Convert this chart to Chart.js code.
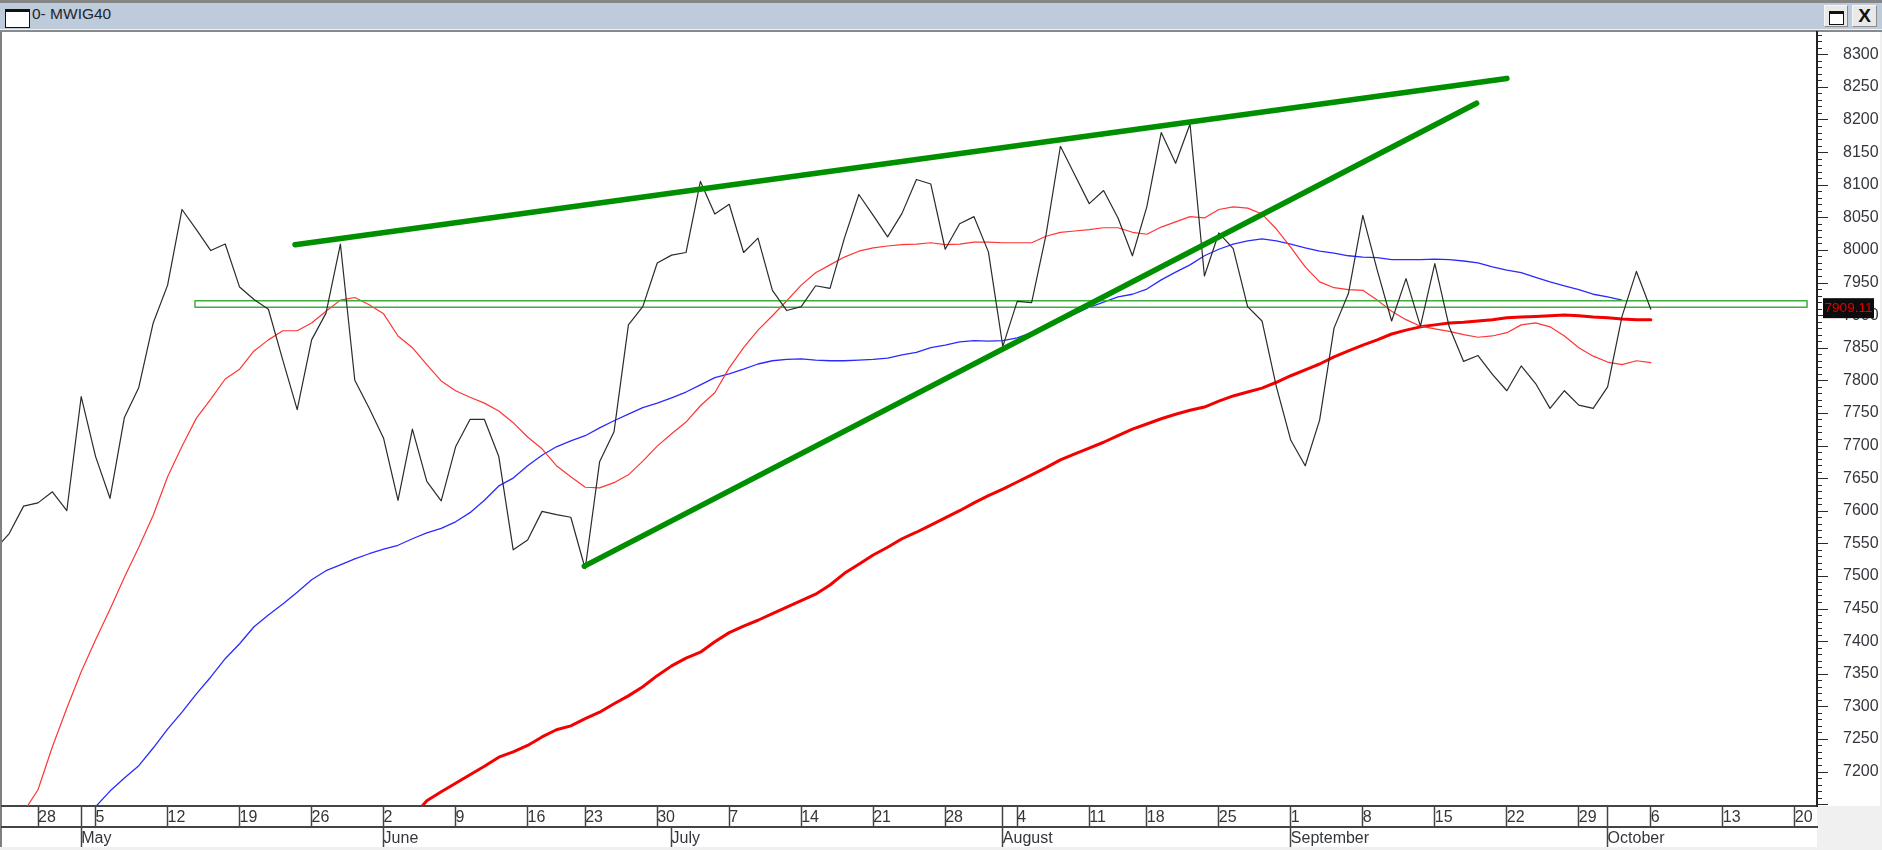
<!DOCTYPE html>
<html>
<head>
<meta charset="utf-8">
<title>MWIG40</title>
<script src="https://cdn.jsdelivr.net/npm/chart.js@4"></script>
<style>
html,body{margin:0;padding:0;width:1882px;height:850px;overflow:hidden;background:#f0f0f0;font-family:"Liberation Sans",Arial,sans-serif}
#frame{position:absolute;left:0;top:0;width:1882px;height:3px;background:#858585}
#bar{position:absolute;left:0;top:3px;width:1882px;height:26px;background:#bdcbdb}
#barline{position:absolute;left:0;top:29px;width:1882px;height:3px;background:linear-gradient(#f2f2f2 0 1px,#8a8a8a 1px)}
#paper{position:absolute;left:0;top:32px;width:1880px;height:774px;background:#fff}
#strip{position:absolute;left:0;top:806px;width:1817px;height:41px;background:#fff}
#leftedge{position:absolute;left:0;top:32px;width:2px;height:815px;background:#7f7f7f}
#icon{position:absolute;left:5px;top:9px;width:23px;height:15px;border:1px solid #111;border-top:3px solid #111;background:#fff}
#title{position:absolute;left:32px;top:4px;font-size:15.5px;line-height:20px;color:#23262c}
.btn{position:absolute;top:5px;height:22px;background:#e9e9e9;border:1px solid #f7f7f7;border-right-color:#8c8c8c;border-bottom-color:#8c8c8c;box-sizing:border-box}
#restore{left:1824px;width:24px}
#restore i{position:absolute;left:4px;top:5px;width:13px;height:10px;border:1px solid #111;border-top:3px solid #111;background:#fff;display:block}
#close{left:1852px;width:25px;text-align:center;font-weight:bold;font-size:19px;line-height:20px;color:#111}
canvas{position:absolute;left:0;top:0}
</style>
</head>
<body>
<div id="frame"></div><div id="bar"></div><div id="barline"></div><div id="paper"></div><div id="strip"></div><div id="leftedge"></div>
<div id="icon"></div><div id="title">0- MWIG40</div>
<div id="restore" class="btn"><i></i></div><div id="close" class="btn">X</div>
<canvas id="c" width="1882" height="850"></canvas>
<script>
// Trading sessions (2014), month-day
const days = [
"04-23","04-24","04-25","04-28","04-29","04-30","05-02",
"05-05","05-06","05-07","05-08","05-09","05-12","05-13","05-14","05-15","05-16",
"05-19","05-20","05-21","05-22","05-23","05-26","05-27","05-28","05-29","05-30",
"06-02","06-03","06-04","06-05","06-06","06-09","06-10","06-11","06-12","06-13",
"06-16","06-17","06-18","06-20","06-23","06-24","06-25","06-26","06-27",
"06-30","07-01","07-02","07-03","07-04","07-07","07-08","07-09","07-10","07-11",
"07-14","07-15","07-16","07-17","07-18","07-21","07-22","07-23","07-24","07-25",
"07-28","07-29","07-30","07-31","08-01","08-04","08-05","08-06","08-07","08-08",
"08-11","08-12","08-13","08-14","08-18","08-19","08-20","08-21","08-22",
"08-25","08-26","08-27","08-28","08-29","09-01","09-02","09-03","09-04","09-05",
"09-08","09-09","09-10","09-11","09-12","09-15","09-16","09-17","09-18","09-19",
"09-22","09-23","09-24","09-25","09-26","09-29","09-30","10-01","10-02","10-03",
"10-06","10-07","10-08","10-09","10-10","10-13","10-14","10-15","10-16","10-17",
"10-20","10-21"];

// Close, from 04-23
const closeValues = [
7540,7565,7607,7612,7629,7600,7775,7683,7619,7743,
7789,7888,7946,8062,8031,7999,8009,7943,7924,7909,
7831,7755,7862,7903,8009,7800,7757,7711,7616,7725,
7645,7615,7698,7740,7740,7683,7540,7555,7599,7594,
7590,7511,7675,7721,7885,7913,7980,7992,7996,8105,
8055,8070,7996,8018,7938,7907,7913,7945,7941,8018,
8085,8053,8020,8056,8108,8101,8001,8040,8051,7997,
7852,7921,7919,8023,8159,8115,8071,8091,8049,7991,
8066,8180,8133,8193,7960,8026,8002,7913,7891,7790,
7708,7669,7739,7880,7933,8053,7969,7891,7956,7883,
7979,7882,7829,7838,7809,7784,7822,7795,7757,7784,
7762,7757,7790,7898,7967,7909.11];

// Fast moving average (thin red), from 04-25
const fastFrom = "04-25";
const fastAverage = [
7138,7172,7238,7297,7353,7402,7449,7498,7544,7593,
7652,7699,7742,7771,7802,7817,7845,7862,7876,7876,
7888,7906,7923,7927,7916,7902,7868,7850,7824,7799,
7784,7774,7765,7753,7735,7713,7695,7669,7652,7636,
7635,7643,7655,7676,7699,7718,7736,7761,7781,7819,
7850,7877,7899,7922,7946,7965,7977,7989,7998,8003,
8006,8008,8009,8011,8008,8009,8012,8012,8011,8011,
8011,8021,8027,8029,8031,8034,8034,8027,8024,8035,
8043,8051,8049,8062,8066,8064,8055,8032,8004,7974,
7951,7942,7939,7938,7923,7906,7893,7883,7879,7875,
7870,7866,7868,7873,7885,7888,7882,7868,7850,7837,
7828,7824,7830,7827];

// Medium moving average (blue), from 05-05
const mediumFrom = "05-05";
const mediumAverage = [
7146,7170,7190,7209,7236,7265,7291,7319,7345,7373,
7396,7422,7440,7457,7475,7494,7508,7517,7526,7534,
7541,7547,7557,7566,7573,7583,7597,7616,7638,7650,
7669,7685,7698,7707,7715,7727,7738,7748,7758,7765,
7773,7782,7793,7804,7810,7817,7825,7830,7832,7833,
7831,7830,7830,7831,7832,7834,7839,7843,7850,7854,
7859,7861,7860,7861,7865,7873,7880,7891,7902,7912,
7920,7928,7932,7940,7954,7966,7977,7991,8001,8009,
8014,8017,8014,8009,8003,7998,7995,7991,7989,7988,
7985,7985,7985,7986,7985,7983,7980,7974,7969,7965,
7958,7951,7945,7939,7932,7928,7923];

// Slow moving average (thick red), from 06-04
const slowFrom = "06-04";
const slowAverage = [
7130,7155,7169,7182,7195,7208,7222,7230,7240,7253,
7264,7270,7281,7291,7304,7316,7330,7347,7362,7374,
7383,7399,7413,7423,7432,7442,7452,7462,7472,7486,
7504,7518,7532,7544,7557,7567,7578,7589,7600,7612,
7623,7633,7644,7655,7666,7678,7687,7696,7705,7715,
7725,7733,7741,7748,7754,7759,7768,7776,7782,7788,
7797,7807,7816,7825,7836,7845,7854,7862,7871,7877,
7882,7885,7888,7889,7891,7893,7896,7897,7898,7899,
7900,7899,7897,7896,7894,7893,7893];

// Drawn studies: session index (fractional), value
const resistanceX = [20.85, 105];
const resistanceY = [8008, 8263];
const supportX = [40.94, 102.9];
const supportY = [7515, 8225];
const channelBoxX = [13.9, 125.85, 125.85, 13.9, 13.9];
const channelBoxY = [7922, 7922, 7912, 7912, 7922];

// Axis labels
const yLabels = [7200,7250,7300,7350,7400,7450,7500,7550,7600,7650,7700,7750,7800,7850,7900,7950,8000,8050,8100,8150,8200,8250,8300];
const weekTicks = [
["04-28","28"],["05-02",""],["05-05","5"],["05-12","12"],["05-19","19"],["05-26","26"],
["06-02","2"],["06-09","9"],["06-16","16"],["06-23","23"],["06-30","30"],
["07-07","7"],["07-14","14"],["07-21","21"],["07-28","28"],["08-01",""],
["08-04","4"],["08-11","11"],["08-18","18"],["08-25","25"],
["09-01","1"],["09-08","8"],["09-15","15"],["09-22","22"],["09-29","29"],["10-01",""],
["10-06","6"],["10-13","13"],["10-20","20"]];
const monthTicks = [["05-02","May"],["06-02","June"],["07-01","July"],["08-01","August"],["09-01","September"],["10-01","October"]];
const lastValue = 7909.11;

const series = (from, vals) => { const s = days.indexOf(from); return vals.map((y,i)=>({x:s+i,y})); };
const pairs = (xs, ys) => xs.map((x,i)=>({x,y:ys[i]}));
const line = (data,color,width) => ({data,borderColor:color,borderWidth:width,pointRadius:0,tension:0,fill:false,borderJoinStyle:'round',borderCapStyle:'round'});
const font = {family:'"Liberation Sans",Arial,sans-serif',size:16};
const xMin = 0.5, xMax = 126.54, yMin = 7147.1, yMax = 8334.2;

const chromePlugin = {
  id:'chrome',
  afterDraw(chart){
    const {ctx,scales:{y}} = chart;
    ctx.save();
    ctx.strokeStyle='#2a2a2a'; ctx.lineWidth=1;
    y.ticks.forEach(t=>{
      const py=Math.round(y.getPixelForValue(t.value))+0.5;
      const len=t.value%50===0?11:5;
      ctx.beginPath(); ctx.moveTo(y.left,py); ctx.lineTo(y.left+len,py); ctx.stroke();
    });
    const py=y.getPixelForValue(lastValue);
    ctx.fillStyle='#0c0c0c'; ctx.fillRect(1823,py-11,51,20);
    ctx.fillStyle='#e00000'; ctx.font='13.5px "Liberation Sans",Arial,sans-serif';
    ctx.textAlign='center'; ctx.textBaseline='middle';
    ctx.fillText(String(lastValue),1848.5,py-0.5);
    ctx.restore();
  }
};

new Chart(document.getElementById('c'),{
  type:'line',
  data:{datasets:[
    line(pairs(resistanceX,resistanceY),'#008f00',5.6),
    line(pairs(supportX,supportY),'#008f00',5.6),
    line(series("04-23",closeValues),'#2b2b2b',1.2),
    line(pairs(channelBoxX,channelBoxY),'#3fae3f',1.5),
    line(series(fastFrom,fastAverage),'#ff3535',1.2),
    line(series(mediumFrom,mediumAverage),'#2a2aff',1.3),
    line(series(slowFrom,slowAverage),'#f40000',3)
  ]},
  options:{
    responsive:false,animation:false,devicePixelRatio:1,
    layout:{padding:{left:2,top:32,right:0,bottom:3}},
    plugins:{legend:{display:false},tooltip:{enabled:false},title:{display:false}},
    events:[],
    scales:{
      x:{type:'linear',position:'bottom',weight:0,min:xMin,max:xMax,
        grid:{display:true,drawOnChartArea:false,drawTicks:true,tickLength:20,tickColor:'#444',tickWidth:1.5},
        border:{display:true,color:'#444',width:2},
        afterBuildTicks:s=>{s.ticks=weekTicks.map(t=>({value:days.indexOf(t[0])}));},
        afterFit:s=>{s.height=21;},
        ticks:{autoSkip:false,maxRotation:0,minRotation:0,align:'start',padding:-18,color:'#33363c',font,
          callback:(v,i)=>weekTicks[i][1]}
      },
      x2:{type:'linear',position:'bottom',weight:1,min:xMin,max:xMax,
        grid:{display:true,drawOnChartArea:false,drawTicks:true,tickLength:20,tickColor:'#444',tickWidth:1.5},
        border:{display:true,color:'#444',width:2},
        afterBuildTicks:s=>{s.ticks=monthTicks.map(t=>({value:days.indexOf(t[0])}));},
        afterFit:s=>{s.height=20;},
        ticks:{autoSkip:false,maxRotation:0,minRotation:0,align:'start',padding:-18,color:'#33363c',font,
          callback:(v,i)=>monthTicks[i][1]}
      },
      y:{type:'linear',position:'right',min:yMin,max:yMax,
        grid:{display:false},
        border:{display:true,color:'#222',width:2},
        afterBuildTicks:s=>{
          const t=[]; for(let v=7150;v<=8330;v+=10)t.push({value:v}); s.ticks=t;
        },
        afterFit:s=>{s.width=65;},
        ticks:{autoSkip:false,padding:18,color:'#33363c',font,
          callback:v=>yLabels.includes(v)?String(v):''}
      }
    }
  },
  plugins:[chromePlugin]
});
</script>
</body>
</html>
